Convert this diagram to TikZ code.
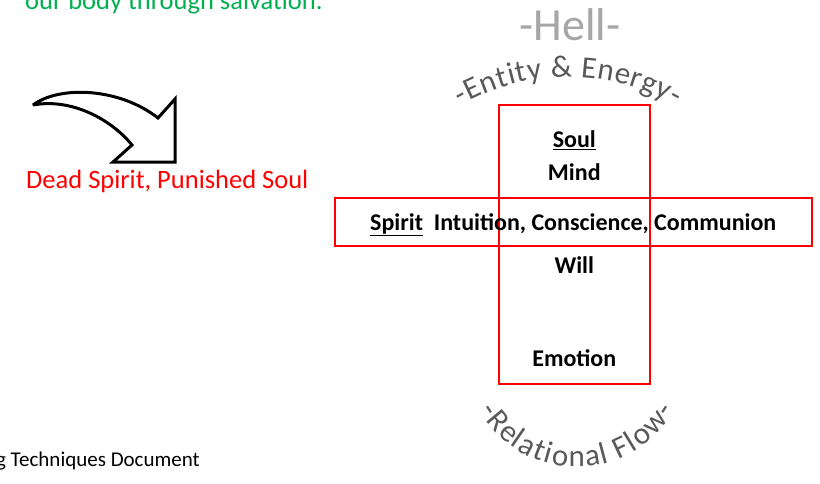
\documentclass[tikz,border=0pt]{standalone}
\usepackage{fontspec}
\setmainfont{Carlito}
\usetikzlibrary{decorations.text}
\definecolor{wgreen}{RGB}{0,176,80}
\definecolor{wred}{RGB}{255,0,0}
\definecolor{hellgray}{RGB}{166,166,166}
\definecolor{arcgray}{RGB}{89,89,89}
\begin{document}
\begin{tikzpicture}[x=1pt,y=1pt,
  crossbox/.style={draw=wred, line width=1.6pt, inner sep=0pt},
  crosstext/.style={font=\fontsize{24}{28}\selectfont\bfseries, inner sep=0pt},
  bodytext/.style={font=\fontsize{26.5}{30}\selectfont, inner sep=0pt},
  blockarrow/.style={draw=black, line width=3pt, fill=white, line join=miter, miter limit=3},
  arctext/.style={decorate, decoration={text along path, text align={fit to path}, text color=arcgray}}]
\useasboundingbox (0,0) rectangle (820,-483);

% cross
\node[crossbox, minimum width=151.3pt, minimum height=278.7pt] (vbox) at (574.35,-244.35) {};
\node[crossbox, minimum width=476.7pt, minimum height=48pt] (hbox) at (573.35,-221.7) {};

\node[crosstext, anchor=base] (soul) at (574.3,-147.3) {\underline{Soul}};
\node[crosstext, anchor=base] (mind) at (574.3,-180) {Mind};
\node[crosstext, anchor=base west] (spirit) at (370,-230) {\underline{Spirit}\ \ Intuition, Conscience, Communion};
\node[crosstext, anchor=base] (will) at (574.3,-273.3) {Will};
\node[crosstext, anchor=base] (emotion) at (574.3,-366) {Emotion};

% green cut-off text
\node[bodytext, text=wgreen, anchor=base west] (green) at (25,-9) {our body through salvation.};

% curved block arrow
\draw[blockarrow] (33,-105) .. controls (60,-85) and (120,-88) .. (158,-118)
  -- (175,-99) -- (175,-162) -- (113,-162) -- (132,-145)
  .. controls (110,-118) and (70,-98) .. (33,-105) -- cycle;

% red text
\node[bodytext, text=wred, anchor=base west] (dead) at (26,-188) {Dead Spirit, Punished Soul};

% footer text
\node[font=\fontsize{21}{24}\selectfont, inner sep=0pt, anchor=base east] (footer) at (200,-466.7) {g Techniques Document};

% Hell
\node[font=\fontsize{46}{50}\selectfont, text=hellgray, inner sep=0pt, anchor=base] (hell) at (570,-40) {-Hell-};

% arc texts
\begin{scope}
\path[arctext, decoration={text={|\fontsize{31}{31}\selectfont|-Entity {\&} Energy-}}]
  (568,-292) ++(120:215) arc[start angle=120, end angle=60, radius=215];
\end{scope}
\begin{scope}
\path[arctext, decoration={text={|\fontsize{31}{31}\selectfont|-Relational Flow-}}]
  (577,-354.4) ++(210:112.6) arc[start angle=210, end angle=330, radius=112.6];
\end{scope}
\end{tikzpicture}
\end{document}
